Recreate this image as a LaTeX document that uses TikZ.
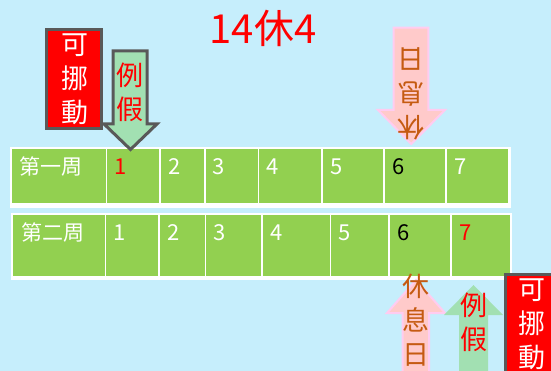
\documentclass[tikz,border=0pt]{standalone}
\usepackage{fontspec}
\setmainfont{Noto Sans CJK TC}
\definecolor{bgblue}{HTML}{C6EEFC}
\definecolor{cellgreen}{HTML}{92D050}
\definecolor{arrowgreen}{HTML}{A2E0B2}
\definecolor{boxgray}{HTML}{595959}
\definecolor{pinkfill}{HTML}{FFCACA}
\definecolor{pinkedge}{HTML}{FFCCF0}
\definecolor{browntext}{HTML}{C55A11}
\begin{document}
\begin{tikzpicture}[x=1pt,y=-1pt,
  numtext/.style={anchor=west,inner sep=0pt,font=\fontsize{22}{22}\selectfont,text=white},
  labtext/.style={anchor=west,inner sep=0pt,font=\fontsize{21}{21}\selectfont,text=white},
  vtext/.style={align=center,inner sep=0pt,font=\fontsize{27}{34}\selectfont},
  graybox/.style={fill=red,draw=boxgray,line width=3pt},
  grayarrow/.style={fill=arrowgreen,draw=boxgray,line width=3pt,line join=miter},
  pinkarrow/.style={fill=pinkfill,draw=pinkedge,line width=2pt,line join=miter}]
\useasboundingbox (0,0) rectangle (551,371);
\clip (0,0) rectangle (551,371);
\fill[bgblue] (0,0) rectangle (551,371);
% row 1
\fill[white] (10,147) rectangle (510.5,208);
\foreach \a/\b in {10.85/106.5,106.5/159.9,159.9/204.8,204.8/258.6,258.6/321.9,321.9/384,384/445.9,445.9/508.9}
  \fill[cellgreen] (\a+0.75,149) rectangle (\b-0.75,203);
% row 2
\fill[white] (11,213) rectangle (511.5,280);
\foreach \a/\b in {11.85/105.4,105.4/159.2,159.2/205.6,205.6/261.8,261.8/330.3,330.3/389,389/450.8,450.8/510.5}
  \fill[cellgreen] (\a+0.75,215) rectangle (\b-0.75,276);
% row texts
\node[labtext] (w1) at (19,167) {第一周};
\node[numtext,text=red] (a1) at (114.5,167) {1};
\node[numtext] (a2) at (168,167) {2};
\node[numtext] (a3) at (212.5,167) {3};
\node[numtext] (a4) at (266.5,167) {4};
\node[numtext] (a5) at (330,167) {5};
\node[numtext,text=black] (a6) at (392,167) {6};
\node[numtext] (a7) at (454,167) {7};
\node[labtext] (w2) at (21,232.5) {第二周};
\node[numtext] (b1) at (113.5,232.5) {1};
\node[numtext] (b2) at (167.5,232.5) {2};
\node[numtext] (b3) at (213.5,232.5) {3};
\node[numtext] (b4) at (270,232.5) {4};
\node[numtext] (b5) at (338.5,232.5) {5};
\node[numtext,text=black] (b6) at (397,232.5) {6};
\node[numtext,text=red] (b7) at (459,232.5) {7};
% title
\node[inner sep=0pt,text=red,font=\fontsize{40}{40}\selectfont] (title) at (263,28) {14休4};
% top-left red box
\draw[graybox] (46.5,29.5) rectangle (101.5,128.5);
\node[vtext,text=white] (kenuo1) at (75,79) {可\\挪\\動};
% top-left green arrow
\draw[grayarrow] (113,51) -- (147,51) -- (147,124) -- (157,124) -- (130.5,149.5) -- (104,124) -- (113,124) -- cycle;
\node[vtext,text=red] (lijia1) at (130,92.5) {例\\假};
% top pink arrow (pointing down)
\draw[pinkarrow] (393.7,27.7) -- (428.3,27.7) -- (428.3,110) -- (445,110) -- (411.2,144) -- (378,110) -- (393.7,110) -- cycle;
\node[vtext,text=browntext,rotate=180] (xiuxi1) at (411,94) {休\\息\\日};
% bottom pink arrow (pointing up)
\draw[pinkarrow] (402.7,385) -- (402.7,313) -- (387,313) -- (416,280) -- (445,313) -- (429,313) -- (429,385) -- cycle;
% bottom green arrow
\fill[arrowgreen] (459,385) -- (459,315) -- (444,315) -- (473.5,285) -- (503,315) -- (488,315) -- (488,385) -- cycle;
\node[vtext,text=red] (lijia2) at (474,322.5) {例\\假};
% bottom red box
\draw[graybox] (505,274.5) rectangle (565,385);
\node[vtext,text=white] (kenuo2) at (532,324.5) {可\\挪\\動};
\node[vtext,text=browntext] (xiuxi2) at (416,320) {休\\息\\日};
\end{tikzpicture}
\end{document}
